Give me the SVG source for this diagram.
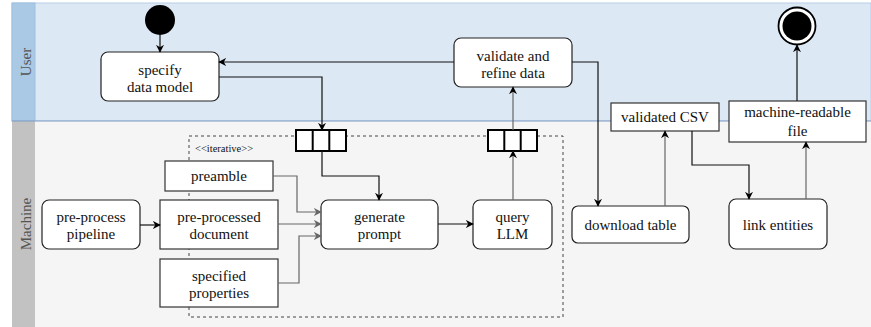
<svg xmlns="http://www.w3.org/2000/svg" width="871" height="327" viewBox="0 0 871 327">
<style>
text{font-family:'Liberation Serif','Times New Roman',serif;font-size:15px;fill:#111;text-anchor:middle}
.hdr{fill:#555}
.small{font-size:10.5px;text-anchor:start}
.act{fill:#fff;stroke:#222;stroke-width:1.2}
.obj{fill:#fff;stroke:#333;stroke-width:1.2}
.c{fill:none;stroke:#111;stroke-width:1.2}
.g{fill:none;stroke:#666;stroke-width:1.2}
.pin{fill:#fff;stroke:#000;stroke-width:2}
</style>
<defs>
<marker id="a" viewBox="0 0 10 10" refX="9" refY="5" markerWidth="8" markerHeight="8" markerUnits="userSpaceOnUse" orient="auto"><path d="M0,0 L10,5 L0,10 L3,5 z" fill="#000"/></marker>
<marker id="ag" viewBox="0 0 10 10" refX="9" refY="5" markerWidth="8" markerHeight="8" markerUnits="userSpaceOnUse" orient="auto"><path d="M0,0 L10,5 L0,10 L3,5 z" fill="#666"/></marker>
</defs>
<g id="lane-user">
<rect x="12" y="3" width="859" height="118" fill="#dde8f5" stroke="#b7cde6" stroke-width="1"/>
<rect x="12" y="3" width="23" height="118" fill="#a9c9e4" stroke="#9dbfe0" stroke-width="1"/>
<text class="hdr" transform="translate(31,62) rotate(-90)">User</text>
</g>
<g id="lane-machine">
<rect x="12" y="121" width="859" height="206" fill="#f5f5f5"/>
<rect x="12" y="121" width="23" height="206" fill="#c2c2c2"/>
<text class="hdr" transform="translate(31,224) rotate(-90)">Machine</text>
<line x1="12" y1="121" x2="871" y2="121" stroke="#7d9cc4" stroke-width="1"/>
</g>
<g id="iterative">
<rect x="189" y="136" width="374" height="181" fill="none" stroke="#444" stroke-width="1" stroke-dasharray="3,3"/>
<text class="small" x="195" y="152">&lt;&lt;iterative&gt;&gt;</text>
</g>
<g id="start"><circle cx="160" cy="20" r="15" fill="#000"/></g>
<g id="end"><circle cx="797" cy="26" r="18.5" fill="#fff" stroke="#000" stroke-width="1.8"/><circle cx="797" cy="26" r="14.5" fill="#000"/></g>
<g id="specify"><rect class="act" x="101" y="52" width="118" height="49" rx="7"/><text x="160" y="74.5">specify</text><text x="160" y="92">data model</text></g>
<g id="validate"><rect class="act" x="454" y="38" width="118" height="49" rx="7"/><text x="513" y="61">validate and</text><text x="513" y="77.5">refine data</text></g>
<g id="csv"><rect class="obj" x="611" y="103" width="108" height="28"/><text x="665" y="121.5">validated CSV</text></g>
<g id="file"><rect class="obj" x="729" y="101" width="137" height="41"/><text x="797.5" y="117">machine-readable</text><text x="797.5" y="135.5">file</text></g>
<g id="preprocess"><rect class="act" x="42" y="200" width="98" height="49" rx="7"/><text x="91" y="221.5">pre-process</text><text x="91" y="239">pipeline</text></g>
<g id="preamble"><rect class="obj" x="165" y="161" width="108" height="30"/><text x="219" y="181">preamble</text></g>
<g id="document"><rect class="obj" x="160" y="200" width="118" height="49"/><text x="219" y="221.5">pre-processed</text><text x="219" y="239">document</text></g>
<g id="properties"><rect class="obj" x="160" y="259" width="118" height="48"/><text x="219" y="280.5">specified</text><text x="219" y="297.5">properties</text></g>
<g id="generate"><rect class="act" x="321" y="200" width="117" height="49" rx="7"/><text x="379.5" y="221.5">generate</text><text x="379.5" y="239">prompt</text></g>
<g id="query"><rect class="act" x="473" y="200" width="79" height="49" rx="7"/><text x="512.5" y="221.5">query</text><text x="512.5" y="239">LLM</text></g>
<g id="download"><rect class="act" x="572" y="206" width="117" height="37" rx="6"/><text x="630.5" y="230">download table</text></g>
<g id="link"><rect class="act" x="729" y="199" width="98" height="50" rx="7"/><text x="778" y="230">link entities</text></g>
<g id="pin-in"><rect class="pin" x="296" y="130" width="50" height="21"/><line class="pin" x1="312.7" y1="130" x2="312.7" y2="151"/><line class="pin" x1="329.3" y1="130" x2="329.3" y2="151"/></g>
<g id="pin-out"><rect class="pin" x="488" y="130" width="49" height="21"/><line class="pin" x1="504.3" y1="130" x2="504.3" y2="151"/><line class="pin" x1="520.7" y1="130" x2="520.7" y2="151"/></g>
<g id="connectors">
<path class="c" d="M160,35 V52" marker-end="url(#a)"/>
<path class="c" d="M454,62 H219" marker-end="url(#a)"/>
<path class="c" d="M219,77 H322 V130" marker-end="url(#a)"/>
<path class="c" d="M322,151 V176 H379 V200" marker-end="url(#a)"/>
<path class="g" d="M273,176 H297 V212 H321" marker-end="url(#ag)"/>
<path class="g" d="M278,224 H321" marker-end="url(#ag)"/>
<path class="g" d="M278,283 H299 V236 H321" marker-end="url(#ag)"/>
<path class="c" d="M140,225 H160" marker-end="url(#a)"/>
<path class="c" d="M438,224 H473" marker-end="url(#a)"/>
<path class="g" d="M513,200 V151" marker-end="url(#a)"/>
<path class="g" d="M513,130 V87" marker-end="url(#a)"/>
<path class="c" d="M572,62 H598 V206" marker-end="url(#a)"/>
<path class="g" d="M665,206 V131" marker-end="url(#a)"/>
<path class="c" d="M692,131 V165 H749 V199" marker-end="url(#a)"/>
<path class="g" d="M806,199 V142" marker-end="url(#a)"/>
<path class="c" d="M797,101 V45" marker-end="url(#a)"/>
</g>
</svg>
